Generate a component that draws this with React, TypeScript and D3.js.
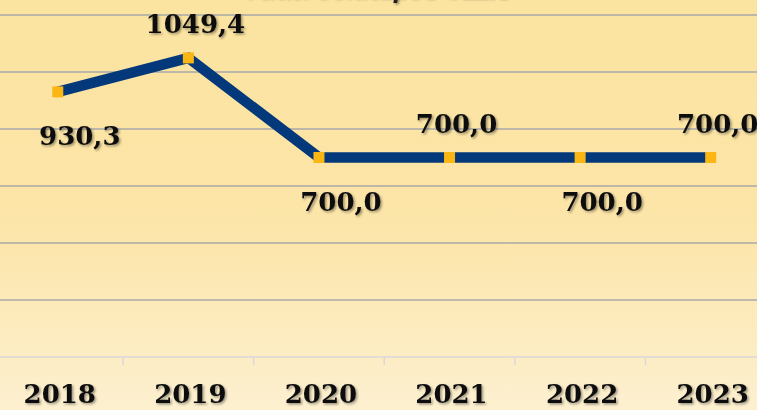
import React, { useEffect, useRef } from 'react';
import * as d3 from 'd3';

// chart data
const years = ['2018', '2019', '2020', '2021', '2022', '2023'];
const values = [930.3, 1049.4, 700.0, 700.0, 700.0, 700.0];
const labelSide = ['below', 'above', 'below', 'above', 'below', 'above'];
const yTicks = [0, 200, 400, 600, 800, 1000, 1200];
const titleText = 'млн. долларов США';

const W = 757;
const H = 410;

export default function App() {
  const ref = useRef<SVGSVGElement>(null);

  useEffect(() => {
    const svg = d3.select(ref.current);
    svg.selectAll('*').remove();

    const font = '"DejaVu Serif", serif';

    const defs = svg.append('defs');
    const grad = defs.append('linearGradient')
      .attr('id', 'bg').attr('x1', 0).attr('y1', 0).attr('x2', 0).attr('y2', 1);
    grad.append('stop').attr('offset', '0%').attr('stop-color', '#fbe3a0');
    grad.append('stop').attr('offset', '55%').attr('stop-color', '#fce5a8');
    grad.append('stop').attr('offset', '100%').attr('stop-color', '#fdf0d0');

    const shadow = defs.append('filter').attr('id', 'shd')
      .attr('x', '-10%').attr('y', '-20%').attr('width', '130%').attr('height', '150%');
    shadow.append('feDropShadow')
      .attr('dx', 1.5).attr('dy', 1.5).attr('stdDeviation', 1)
      .attr('flood-color', '#000').attr('flood-opacity', 0.4);

    svg.append('rect').attr('width', W).attr('height', H).attr('fill', 'url(#bg)');

    const x = d3.scaleBand<string>().domain(years).range([-7.5, 776]).padding(0);
    const y = d3.scaleLinear().domain([0, 1200]).range([357, 15]);
    const cx = (d: string) => (x(d) as number) + x.bandwidth() / 2;

    // title, cut off at the top edge like in the source picture
    svg.append('text')
      .attr('x', 378).attr('y', -2)
      .attr('text-anchor', 'middle')
      .attr('font-family', font).attr('font-style', 'italic').attr('font-weight', 'bold')
      .attr('font-size', 22).attr('fill', '#222')
      .attr('filter', 'url(#shd)')
      .text(titleText);

    // gridlines
    svg.append('g')
      .selectAll('line')
      .data(yTicks.filter(t => t > 0))
      .enter().append('line')
      .attr('x1', 0).attr('x2', W)
      .attr('y1', d => y(d)).attr('y2', d => y(d))
      .attr('stroke', '#a8a8a8').attr('stroke-width', 1.5);

    // x axis
    const xAxis = d3.axisBottom(x).tickSize(0).tickFormat(() => '');
    const ax = svg.append('g').attr('transform', `translate(0,${y(0)})`).call(xAxis);
    ax.select('.domain').attr('stroke', '#d9d9d9').attr('stroke-width', 1.5).attr('d', `M0,0H${W}`);
    ax.selectAll('.tick').remove();

    ax.selectAll('line.sep')
      .data(years.slice(1))
      .enter().append('line')
      .attr('class', 'sep')
      .attr('x1', d => x(d) as number).attr('x2', d => x(d) as number)
      .attr('y1', 0).attr('y2', 8)
      .attr('stroke', '#d9d9d9').attr('stroke-width', 1.5);

    svg.append('g')
      .selectAll('text')
      .data(years)
      .enter().append('text')
      .attr('x', d => cx(d) + 2)
      .attr('y', 403)
      .attr('text-anchor', 'middle')
      .attr('font-family', font).attr('font-weight', 'bold').attr('font-size', 26)
      .attr('fill', '#111')
      .attr('filter', 'url(#shd)')
      .text(d => d);

    const pts = years.map((d, i) => ({ year: d, v: values[i], side: labelSide[i] }));

    const line = d3.line<{ year: string; v: number }>()
      .x(d => cx(d.year))
      .y(d => y(d.v));

    svg.append('path')
      .datum(pts)
      .attr('d', line)
      .attr('fill', 'none')
      .attr('stroke', '#03387a')
      .attr('stroke-width', 10.5)
      .attr('stroke-linejoin', 'miter');

    svg.append('g')
      .selectAll('rect')
      .data(pts)
      .enter().append('rect')
      .attr('x', d => cx(d.year) - 5.5)
      .attr('y', d => y(d.v) - 5.5)
      .attr('width', 11).attr('height', 11)
      .attr('fill', '#fbb614');

    const fmt = (v: number) => v.toFixed(1).replace('.', ',');

    svg.append('g')
      .selectAll('text')
      .data(pts)
      .enter().append('text')
      .attr('x', d => cx(d.year) + (d.side === 'below' ? 22 : 7))
      .attr('y', d => y(d.v) + (d.side === 'below' ? 53 : -25))
      .attr('text-anchor', 'middle')
      .attr('font-family', font).attr('font-weight', 'bold').attr('font-size', 26)
      .attr('fill', '#111')
      .attr('filter', 'url(#shd)')
      .text(d => fmt(d.v));
  }, []);

  return (
    <svg
      ref={ref}
      width={W}
      height={H}
      style={{ position: 'absolute', left: 0, top: 0, display: 'block' }}
    />
  );
}
